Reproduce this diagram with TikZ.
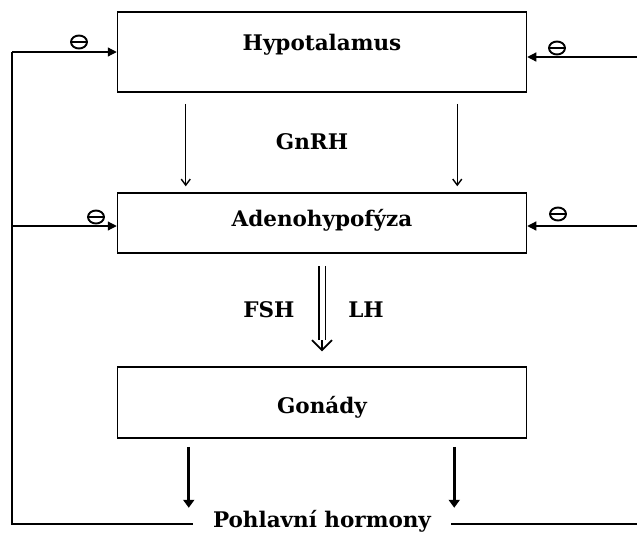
\documentclass[tikz,border=0pt]{standalone}
\usepackage{fontspec}
\setmainfont{DejaVu Serif}
\usetikzlibrary{arrows.meta,shapes.geometric}

\tikzset{
  organ/.style={draw, line width=1.5pt, minimum width=409pt, inner sep=0pt},
  lbl/.style={font=\fontsize{21.5}{25}\selectfont\bfseries},
  fb/.style={line width=1.2pt, -{Triangle[length=9pt,width=9pt]}},
  gn/.style={line width=1.4pt, -{Straight Barb[length=6pt,width=9pt]}},
  horm/.style={line width=3pt, -{Triangle[length=8pt,width=11pt]}},
  dbl/.style={line width=1.8pt, double distance=5pt},
  inhib/.style={draw, ellipse, line width=1.9pt, minimum width=16pt, minimum height=13pt, inner sep=0pt,
    path picture={\draw[line width=1.7pt] (path picture bounding box.west) -- (path picture bounding box.east);}},
}

\begin{document}
\begin{tikzpicture}[x=1pt, y=-1pt]
  \useasboundingbox (0,0) rectangle (637,533);

  % boxes
  \node[organ, lbl, minimum height=80pt, text height=8pt, text depth=12pt] (hyp) at (322,52) {Hypotalamus};
  \node[organ, lbl, minimum height=60pt, text height=14pt, text depth=8pt] (adeno) at (322,223) {Adenohypofýza};
  \node[organ, lbl, minimum height=71pt, text height=22pt, text depth=1pt] (gon) at (322,402.5) {Gonády};
  \node[lbl, anchor=base, inner xsep=20pt] (hormony) at (322,527) {Pohlavní hormony};

  % hormone labels
  \node[lbl] (gnrh) at (312,142) {GnRH};
  \node[lbl] (fsh) at (269,310) {FSH};
  \node[lbl] (lh) at (366,310) {LH};

  % feedback loop
  \coordinate (lt) at (12,52);
  \coordinate (lm) at (12,226);
  \coordinate (lb) at (12,524);
  \coordinate (rt) at (637,57);
  \coordinate (rm) at (637,226);
  \coordinate (rb) at (637,524);

  \draw[line width=1.2pt] (hormony.west |- lb) -- (lb) -- (lt);
  \draw[line width=1.2pt] (hormony.east |- rb) -- (rb);
  \draw[fb] (lt) -- (lt -| hyp.west);
  \draw[fb] (lm) -- (lm -| adeno.west);
  \draw[fb] (rt) -- (rt -| hyp.east);
  \draw[fb] (rm) -- (rm -| adeno.east);

  \node[inhib] (m1) at (79,42) {};
  \node[inhib] (m2) at (557,48) {};
  \node[inhib] (m3) at (96,217) {};
  \node[inhib] (m4) at (558,214) {};

  % GnRH
  \draw[gn] ([xshift=69pt,yshift=-11pt]hyp.south west) -- ([xshift=69pt,yshift=6pt]adeno.north west);
  \draw[gn] ([xshift=-70pt,yshift=-11pt]hyp.south east) -- ([xshift=-70pt,yshift=6pt]adeno.north east);

  % FSH, LH
  \draw[line width=1.6pt, -{Straight Barb[length=10pt,width=20pt]}] ([yshift=-12pt]adeno.south) -- ([yshift=15pt]gon.north);
  \draw[dbl] ([yshift=-12pt]adeno.south) -- ([yshift=26pt]gon.north);

  % sex hormones
  \draw[horm] ([xshift=72pt,yshift=-8pt]gon.south west) -- ([xshift=72pt,yshift=-69pt]gon.south west);
  \draw[horm] ([xshift=-73pt,yshift=-8pt]gon.south east) -- ([xshift=-73pt,yshift=-69pt]gon.south east);
\end{tikzpicture}
\end{document}
